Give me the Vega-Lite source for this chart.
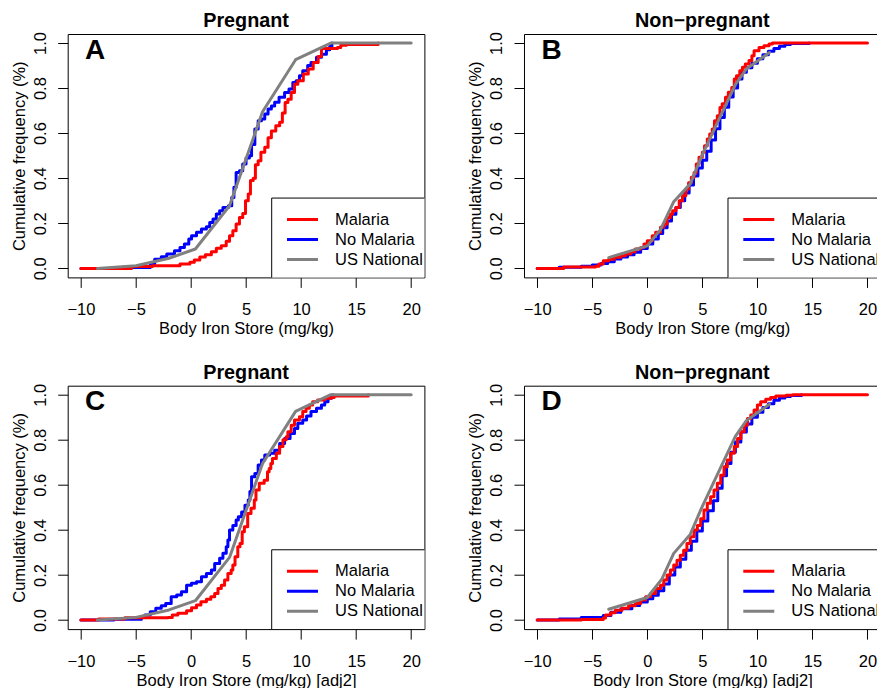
{
  "$schema": "https://vega.github.io/schema/vega-lite/v6.json",
  "background": "white",
  "padding": {"left": 10.7, "top": 10, "right": 0, "bottom": 0},
  "config": {
    "font": "Liberation Sans",
    "view": {"stroke": "black", "strokeWidth": 1},
    "axis": {"domain": false, "grid": false, "tickSize": 10, "tickColor": "black", "tickWidth": 1, "labelFontSize": 16.5, "labelColor": "black", "labelFlush": false, "labelOverlap": false, "titleFontSize": 16.5, "titleFontWeight": "normal", "titleColor": "black"},
    "axisX": {"labelPadding": 14, "labelBaseline": "top", "labelAngle": 0, "titleBaseline": "alphabetic", "titleY": 56.3, "titlePadding": 0},
    "axisY": {"labelAngle": 270, "labelAlign": "center", "labelBaseline": "alphabetic", "labelPadding": 12.6, "titleAngle": 270, "titleX": -43, "titleBaseline": "alphabetic", "titleAlign": "center"},
    "title": {"fontSize": 19.8, "fontWeight": "bold", "color": "black", "anchor": "middle", "frame": "group", "baseline": "alphabetic", "offset": 0.6},
    "legend": {"orient": "none", "legendX": 203.3, "legendY": 175.5, "padding": 0, "strokeColor": null, "fillColor": null, "symbolType": "stroke", "symbolSize": 961, "symbolStrokeWidth": 3, "symbolOffset": 14.5, "labelOffset": 15.5, "labelFontSize": 16.5, "labelColor": "black", "rowPadding": 0, "clipHeight": 20, "title": null}
  },
  "data": {"values": [
    {"p":"A","g":"No Malaria","x":-10,"y":0},{"p":"A","g":"No Malaria","x":-6,"y":0.004},{"p":"A","g":"No Malaria","x":-3.7,"y":0.02},{"p":"A","g":"No Malaria","x":-3.3,"y":0.04},{"p":"A","g":"No Malaria","x":-2.7,"y":0.052},{"p":"A","g":"No Malaria","x":-2.2,"y":0.064},{"p":"A","g":"No Malaria","x":-1.5,"y":0.078},{"p":"A","g":"No Malaria","x":-1.0,"y":0.093},{"p":"A","g":"No Malaria","x":-0.6,"y":0.108},{"p":"A","g":"No Malaria","x":-0.2,"y":0.13},{"p":"A","g":"No Malaria","x":0.05,"y":0.145},{"p":"A","g":"No Malaria","x":0.5,"y":0.16},{"p":"A","g":"No Malaria","x":0.95,"y":0.175},{"p":"A","g":"No Malaria","x":1.4,"y":0.185},{"p":"A","g":"No Malaria","x":1.7,"y":0.204},{"p":"A","g":"No Malaria","x":2.0,"y":0.219},{"p":"A","g":"No Malaria","x":2.3,"y":0.241},{"p":"A","g":"No Malaria","x":2.6,"y":0.256},{"p":"A","g":"No Malaria","x":2.9,"y":0.27},{"p":"A","g":"No Malaria","x":3.4,"y":0.278},{"p":"A","g":"No Malaria","x":3.7,"y":0.315},{"p":"A","g":"No Malaria","x":3.9,"y":0.36},{"p":"A","g":"No Malaria","x":4.1,"y":0.426},{"p":"A","g":"No Malaria","x":4.4,"y":0.433},{"p":"A","g":"No Malaria","x":4.7,"y":0.463},{"p":"A","g":"No Malaria","x":5.0,"y":0.49},{"p":"A","g":"No Malaria","x":5.3,"y":0.5},{"p":"A","g":"No Malaria","x":5.5,"y":0.55},{"p":"A","g":"No Malaria","x":5.8,"y":0.618},{"p":"A","g":"No Malaria","x":6.1,"y":0.655},{"p":"A","g":"No Malaria","x":6.4,"y":0.663},{"p":"A","g":"No Malaria","x":6.7,"y":0.685},{"p":"A","g":"No Malaria","x":7.0,"y":0.707},{"p":"A","g":"No Malaria","x":7.3,"y":0.72},{"p":"A","g":"No Malaria","x":7.6,"y":0.737},{"p":"A","g":"No Malaria","x":8.0,"y":0.759},{"p":"A","g":"No Malaria","x":8.5,"y":0.78},{"p":"A","g":"No Malaria","x":8.9,"y":0.796},{"p":"A","g":"No Malaria","x":9.25,"y":0.825},{"p":"A","g":"No Malaria","x":9.55,"y":0.833},{"p":"A","g":"No Malaria","x":9.85,"y":0.855},{"p":"A","g":"No Malaria","x":10.15,"y":0.877},{"p":"A","g":"No Malaria","x":10.6,"y":0.9},{"p":"A","g":"No Malaria","x":10.9,"y":0.914},{"p":"A","g":"No Malaria","x":11.4,"y":0.937},{"p":"A","g":"No Malaria","x":11.85,"y":0.95},{"p":"A","g":"No Malaria","x":12.3,"y":0.97},{"p":"A","g":"No Malaria","x":12.6,"y":0.985},{"p":"A","g":"No Malaria","x":12.8,"y":1.0},
    {"p":"A","g":"Malaria","x":-10,"y":0},{"p":"A","g":"Malaria","x":-5.4,"y":0.008},{"p":"A","g":"Malaria","x":-3.5,"y":0.012},{"p":"A","g":"Malaria","x":-1.0,"y":0.02},{"p":"A","g":"Malaria","x":-0.1,"y":0.027},{"p":"A","g":"Malaria","x":0.3,"y":0.037},{"p":"A","g":"Malaria","x":0.8,"y":0.05},{"p":"A","g":"Malaria","x":1.3,"y":0.06},{"p":"A","g":"Malaria","x":1.85,"y":0.074},{"p":"A","g":"Malaria","x":2.3,"y":0.089},{"p":"A","g":"Malaria","x":2.75,"y":0.1},{"p":"A","g":"Malaria","x":3.2,"y":0.12},{"p":"A","g":"Malaria","x":3.5,"y":0.145},{"p":"A","g":"Malaria","x":3.8,"y":0.167},{"p":"A","g":"Malaria","x":4.1,"y":0.197},{"p":"A","g":"Malaria","x":4.4,"y":0.226},{"p":"A","g":"Malaria","x":4.7,"y":0.244},{"p":"A","g":"Malaria","x":4.95,"y":0.3},{"p":"A","g":"Malaria","x":5.2,"y":0.33},{"p":"A","g":"Malaria","x":5.4,"y":0.39},{"p":"A","g":"Malaria","x":5.65,"y":0.4},{"p":"A","g":"Malaria","x":5.85,"y":0.46},{"p":"A","g":"Malaria","x":6.1,"y":0.478},{"p":"A","g":"Malaria","x":6.35,"y":0.515},{"p":"A","g":"Malaria","x":6.7,"y":0.537},{"p":"A","g":"Malaria","x":7.0,"y":0.58},{"p":"A","g":"Malaria","x":7.3,"y":0.61},{"p":"A","g":"Malaria","x":7.7,"y":0.633},{"p":"A","g":"Malaria","x":8.05,"y":0.648},{"p":"A","g":"Malaria","x":8.3,"y":0.69},{"p":"A","g":"Malaria","x":8.55,"y":0.736},{"p":"A","g":"Malaria","x":8.8,"y":0.75},{"p":"A","g":"Malaria","x":9.1,"y":0.78},{"p":"A","g":"Malaria","x":9.4,"y":0.817},{"p":"A","g":"Malaria","x":9.7,"y":0.833},{"p":"A","g":"Malaria","x":10.2,"y":0.862},{"p":"A","g":"Malaria","x":10.65,"y":0.885},{"p":"A","g":"Malaria","x":11.1,"y":0.914},{"p":"A","g":"Malaria","x":11.55,"y":0.94},{"p":"A","g":"Malaria","x":11.85,"y":0.976},{"p":"A","g":"Malaria","x":13.3,"y":0.98},{"p":"A","g":"Malaria","x":13.6,"y":0.99},{"p":"A","g":"Malaria","x":14.1,"y":0.993},{"p":"A","g":"Malaria","x":17.0,"y":1.0},
    {"p":"A","g":"US National","x":-8.5,"y":0},{"p":"A","g":"US National","x":-5,"y":0.012},{"p":"A","g":"US National","x":-2,"y":0.045},{"p":"A","g":"US National","x":0.4,"y":0.086},{"p":"A","g":"US National","x":3.5,"y":0.278},{"p":"A","g":"US National","x":6.5,"y":0.695},{"p":"A","g":"US National","x":9.5,"y":0.926},{"p":"A","g":"US National","x":12.7,"y":1.0},{"p":"A","g":"US National","x":20,"y":1.0},
    {"p":"B","g":"No Malaria","x":-10,"y":0},{"p":"B","g":"No Malaria","x":-8,"y":0.005},{"p":"B","g":"No Malaria","x":-6,"y":0.01},{"p":"B","g":"No Malaria","x":-5,"y":0.015},{"p":"B","g":"No Malaria","x":-4.2,"y":0.022},{"p":"B","g":"No Malaria","x":-3.6,"y":0.03},{"p":"B","g":"No Malaria","x":-3,"y":0.042},{"p":"B","g":"No Malaria","x":-2.4,"y":0.05},{"p":"B","g":"No Malaria","x":-1.8,"y":0.06},{"p":"B","g":"No Malaria","x":-1.2,"y":0.072},{"p":"B","g":"No Malaria","x":-0.6,"y":0.088},{"p":"B","g":"No Malaria","x":0,"y":0.108},{"p":"B","g":"No Malaria","x":0.5,"y":0.13},{"p":"B","g":"No Malaria","x":1.0,"y":0.155},{"p":"B","g":"No Malaria","x":1.4,"y":0.18},{"p":"B","g":"No Malaria","x":1.8,"y":0.21},{"p":"B","g":"No Malaria","x":2.2,"y":0.24},{"p":"B","g":"No Malaria","x":2.6,"y":0.27},{"p":"B","g":"No Malaria","x":3.0,"y":0.3},{"p":"B","g":"No Malaria","x":3.4,"y":0.335},{"p":"B","g":"No Malaria","x":3.8,"y":0.37},{"p":"B","g":"No Malaria","x":4.2,"y":0.41},{"p":"B","g":"No Malaria","x":4.6,"y":0.445},{"p":"B","g":"No Malaria","x":5.0,"y":0.48},{"p":"B","g":"No Malaria","x":5.4,"y":0.52},{"p":"B","g":"No Malaria","x":5.8,"y":0.57},{"p":"B","g":"No Malaria","x":6.2,"y":0.62},{"p":"B","g":"No Malaria","x":6.6,"y":0.67},{"p":"B","g":"No Malaria","x":7.0,"y":0.715},{"p":"B","g":"No Malaria","x":7.4,"y":0.76},{"p":"B","g":"No Malaria","x":7.8,"y":0.8},{"p":"B","g":"No Malaria","x":8.2,"y":0.84},{"p":"B","g":"No Malaria","x":8.6,"y":0.87},{"p":"B","g":"No Malaria","x":9.0,"y":0.89},{"p":"B","g":"No Malaria","x":9.5,"y":0.91},{"p":"B","g":"No Malaria","x":10.0,"y":0.93},{"p":"B","g":"No Malaria","x":10.5,"y":0.948},{"p":"B","g":"No Malaria","x":11.0,"y":0.963},{"p":"B","g":"No Malaria","x":11.5,"y":0.976},{"p":"B","g":"No Malaria","x":12.0,"y":0.986},{"p":"B","g":"No Malaria","x":12.5,"y":0.993},{"p":"B","g":"No Malaria","x":13.0,"y":0.998},{"p":"B","g":"No Malaria","x":14.7,"y":1.0},
    {"p":"B","g":"Malaria","x":-10,"y":0},{"p":"B","g":"Malaria","x":-7.6,"y":0.006},{"p":"B","g":"Malaria","x":-4.7,"y":0.01},{"p":"B","g":"Malaria","x":-4.4,"y":0.019},{"p":"B","g":"Malaria","x":-4.0,"y":0.034},{"p":"B","g":"Malaria","x":-3.5,"y":0.041},{"p":"B","g":"Malaria","x":-3.0,"y":0.049},{"p":"B","g":"Malaria","x":-2.4,"y":0.056},{"p":"B","g":"Malaria","x":-2.0,"y":0.064},{"p":"B","g":"Malaria","x":-1.5,"y":0.074},{"p":"B","g":"Malaria","x":-1.1,"y":0.086},{"p":"B","g":"Malaria","x":-0.6,"y":0.093},{"p":"B","g":"Malaria","x":-0.3,"y":0.108},{"p":"B","g":"Malaria","x":0,"y":0.123},{"p":"B","g":"Malaria","x":0.45,"y":0.145},{"p":"B","g":"Malaria","x":0.76,"y":0.16},{"p":"B","g":"Malaria","x":1.2,"y":0.182},{"p":"B","g":"Malaria","x":1.5,"y":0.197},{"p":"B","g":"Malaria","x":1.8,"y":0.226},{"p":"B","g":"Malaria","x":2.1,"y":0.241},{"p":"B","g":"Malaria","x":2.3,"y":0.256},{"p":"B","g":"Malaria","x":2.6,"y":0.27},{"p":"B","g":"Malaria","x":2.9,"y":0.3},{"p":"B","g":"Malaria","x":3.2,"y":0.322},{"p":"B","g":"Malaria","x":3.5,"y":0.352},{"p":"B","g":"Malaria","x":3.75,"y":0.38},{"p":"B","g":"Malaria","x":4.0,"y":0.404},{"p":"B","g":"Malaria","x":4.25,"y":0.426},{"p":"B","g":"Malaria","x":4.45,"y":0.463},{"p":"B","g":"Malaria","x":4.7,"y":0.493},{"p":"B","g":"Malaria","x":5.0,"y":0.515},{"p":"B","g":"Malaria","x":5.2,"y":0.544},{"p":"B","g":"Malaria","x":5.45,"y":0.574},{"p":"B","g":"Malaria","x":5.67,"y":0.596},{"p":"B","g":"Malaria","x":5.9,"y":0.618},{"p":"B","g":"Malaria","x":6.1,"y":0.655},{"p":"B","g":"Malaria","x":6.36,"y":0.677},{"p":"B","g":"Malaria","x":6.6,"y":0.714},{"p":"B","g":"Malaria","x":6.8,"y":0.73},{"p":"B","g":"Malaria","x":7.1,"y":0.759},{"p":"B","g":"Malaria","x":7.36,"y":0.781},{"p":"B","g":"Malaria","x":7.67,"y":0.803},{"p":"B","g":"Malaria","x":7.9,"y":0.84},{"p":"B","g":"Malaria","x":8.1,"y":0.855},{"p":"B","g":"Malaria","x":8.4,"y":0.877},{"p":"B","g":"Malaria","x":8.64,"y":0.892},{"p":"B","g":"Malaria","x":8.9,"y":0.907},{"p":"B","g":"Malaria","x":9.24,"y":0.922},{"p":"B","g":"Malaria","x":9.5,"y":0.944},{"p":"B","g":"Malaria","x":9.7,"y":0.966},{"p":"B","g":"Malaria","x":10.15,"y":0.98},{"p":"B","g":"Malaria","x":10.6,"y":0.988},{"p":"B","g":"Malaria","x":11.06,"y":0.996},{"p":"B","g":"Malaria","x":11.36,"y":1.0},{"p":"B","g":"Malaria","x":20,"y":1.0},
    {"p":"B","g":"US National","x":-3.5,"y":0.048},{"p":"B","g":"US National","x":0,"y":0.1},{"p":"B","g":"US National","x":1.2,"y":0.172},{"p":"B","g":"US National","x":2.4,"y":0.296},{"p":"B","g":"US National","x":3.9,"y":0.375},{"p":"B","g":"US National","x":5,"y":0.505},{"p":"B","g":"US National","x":8,"y":0.815},{"p":"B","g":"US National","x":9,"y":0.885},{"p":"B","g":"US National","x":11.1,"y":0.958},
    {"p":"C","g":"No Malaria","x":-10,"y":0},{"p":"C","g":"No Malaria","x":-7,"y":0.004},{"p":"C","g":"No Malaria","x":-4.5,"y":0.012},{"p":"C","g":"No Malaria","x":-4.2,"y":0.022},{"p":"C","g":"No Malaria","x":-3.7,"y":0.037},{"p":"C","g":"No Malaria","x":-3.2,"y":0.052},{"p":"C","g":"No Malaria","x":-2.7,"y":0.064},{"p":"C","g":"No Malaria","x":-2.3,"y":0.074},{"p":"C","g":"No Malaria","x":-1.8,"y":0.104},{"p":"C","g":"No Malaria","x":-1.3,"y":0.111},{"p":"C","g":"No Malaria","x":-0.87,"y":0.126},{"p":"C","g":"No Malaria","x":-0.4,"y":0.155},{"p":"C","g":"No Malaria","x":0.04,"y":0.163},{"p":"C","g":"No Malaria","x":0.5,"y":0.17},{"p":"C","g":"No Malaria","x":0.95,"y":0.192},{"p":"C","g":"No Malaria","x":1.4,"y":0.207},{"p":"C","g":"No Malaria","x":1.85,"y":0.222},{"p":"C","g":"No Malaria","x":2.15,"y":0.251},{"p":"C","g":"No Malaria","x":2.6,"y":0.274},{"p":"C","g":"No Malaria","x":2.9,"y":0.296},{"p":"C","g":"No Malaria","x":3.2,"y":0.325},{"p":"C","g":"No Malaria","x":3.35,"y":0.355},{"p":"C","g":"No Malaria","x":3.5,"y":0.4},{"p":"C","g":"No Malaria","x":3.8,"y":0.42},{"p":"C","g":"No Malaria","x":4.1,"y":0.444},{"p":"C","g":"No Malaria","x":4.3,"y":0.459},{"p":"C","g":"No Malaria","x":4.6,"y":0.48},{"p":"C","g":"No Malaria","x":4.9,"y":0.51},{"p":"C","g":"No Malaria","x":5.2,"y":0.533},{"p":"C","g":"No Malaria","x":5.35,"y":0.57},{"p":"C","g":"No Malaria","x":5.5,"y":0.636},{"p":"C","g":"No Malaria","x":5.8,"y":0.65},{"p":"C","g":"No Malaria","x":6.1,"y":0.688},{"p":"C","g":"No Malaria","x":6.4,"y":0.71},{"p":"C","g":"No Malaria","x":6.7,"y":0.732},{"p":"C","g":"No Malaria","x":7.15,"y":0.74},{"p":"C","g":"No Malaria","x":7.6,"y":0.754},{"p":"C","g":"No Malaria","x":8.05,"y":0.784},{"p":"C","g":"No Malaria","x":8.5,"y":0.806},{"p":"C","g":"No Malaria","x":9.0,"y":0.828},{"p":"C","g":"No Malaria","x":9.4,"y":0.85},{"p":"C","g":"No Malaria","x":9.7,"y":0.873},{"p":"C","g":"No Malaria","x":10.15,"y":0.888},{"p":"C","g":"No Malaria","x":10.5,"y":0.905},{"p":"C","g":"No Malaria","x":10.9,"y":0.925},{"p":"C","g":"No Malaria","x":11.4,"y":0.94},{"p":"C","g":"No Malaria","x":11.85,"y":0.954},{"p":"C","g":"No Malaria","x":12.15,"y":0.969},{"p":"C","g":"No Malaria","x":12.45,"y":0.984},{"p":"C","g":"No Malaria","x":12.75,"y":0.998},{"p":"C","g":"No Malaria","x":12.9,"y":1.0},
    {"p":"C","g":"Malaria","x":-10,"y":0},{"p":"C","g":"Malaria","x":-8.4,"y":0.005},{"p":"C","g":"Malaria","x":-6,"y":0.01},{"p":"C","g":"Malaria","x":-2.1,"y":0.012},{"p":"C","g":"Malaria","x":-1.7,"y":0.022},{"p":"C","g":"Malaria","x":-1.2,"y":0.03},{"p":"C","g":"Malaria","x":-0.4,"y":0.041},{"p":"C","g":"Malaria","x":0.05,"y":0.055},{"p":"C","g":"Malaria","x":0.5,"y":0.067},{"p":"C","g":"Malaria","x":0.9,"y":0.081},{"p":"C","g":"Malaria","x":1.4,"y":0.092},{"p":"C","g":"Malaria","x":1.8,"y":0.104},{"p":"C","g":"Malaria","x":2.15,"y":0.118},{"p":"C","g":"Malaria","x":2.45,"y":0.14},{"p":"C","g":"Malaria","x":2.75,"y":0.155},{"p":"C","g":"Malaria","x":3.05,"y":0.178},{"p":"C","g":"Malaria","x":3.35,"y":0.207},{"p":"C","g":"Malaria","x":3.65,"y":0.222},{"p":"C","g":"Malaria","x":3.8,"y":0.244},{"p":"C","g":"Malaria","x":4.0,"y":0.281},{"p":"C","g":"Malaria","x":4.25,"y":0.325},{"p":"C","g":"Malaria","x":4.45,"y":0.34},{"p":"C","g":"Malaria","x":4.65,"y":0.392},{"p":"C","g":"Malaria","x":4.85,"y":0.414},{"p":"C","g":"Malaria","x":5.15,"y":0.473},{"p":"C","g":"Malaria","x":5.45,"y":0.496},{"p":"C","g":"Malaria","x":5.75,"y":0.533},{"p":"C","g":"Malaria","x":5.9,"y":0.577},{"p":"C","g":"Malaria","x":6.2,"y":0.607},{"p":"C","g":"Malaria","x":6.65,"y":0.621},{"p":"C","g":"Malaria","x":6.95,"y":0.658},{"p":"C","g":"Malaria","x":7.1,"y":0.673},{"p":"C","g":"Malaria","x":7.25,"y":0.695},{"p":"C","g":"Malaria","x":7.4,"y":0.717},{"p":"C","g":"Malaria","x":7.75,"y":0.74},{"p":"C","g":"Malaria","x":8.05,"y":0.77},{"p":"C","g":"Malaria","x":8.35,"y":0.8},{"p":"C","g":"Malaria","x":8.65,"y":0.814},{"p":"C","g":"Malaria","x":8.8,"y":0.836},{"p":"C","g":"Malaria","x":9.1,"y":0.865},{"p":"C","g":"Malaria","x":9.4,"y":0.888},{"p":"C","g":"Malaria","x":9.85,"y":0.902},{"p":"C","g":"Malaria","x":10.15,"y":0.925},{"p":"C","g":"Malaria","x":10.45,"y":0.94},{"p":"C","g":"Malaria","x":10.75,"y":0.954},{"p":"C","g":"Malaria","x":11.05,"y":0.969},{"p":"C","g":"Malaria","x":11.5,"y":0.976},{"p":"C","g":"Malaria","x":12.1,"y":0.984},{"p":"C","g":"Malaria","x":12.75,"y":0.988},{"p":"C","g":"Malaria","x":13.0,"y":0.994},{"p":"C","g":"Malaria","x":16.1,"y":1.0},
    {"p":"C","g":"US National","x":-8.5,"y":0},{"p":"C","g":"US National","x":-5,"y":0.012},{"p":"C","g":"US National","x":-2,"y":0.045},{"p":"C","g":"US National","x":0.4,"y":0.086},{"p":"C","g":"US National","x":3.5,"y":0.278},{"p":"C","g":"US National","x":6.5,"y":0.695},{"p":"C","g":"US National","x":9.5,"y":0.926},{"p":"C","g":"US National","x":12.7,"y":1.0},{"p":"C","g":"US National","x":20,"y":1.0},
    {"p":"D","g":"No Malaria","x":-10,"y":0},{"p":"D","g":"No Malaria","x":-8,"y":0.005},{"p":"D","g":"No Malaria","x":-6,"y":0.012},{"p":"D","g":"No Malaria","x":-4,"y":0.02},{"p":"D","g":"No Malaria","x":-3.3,"y":0.035},{"p":"D","g":"No Malaria","x":-2.4,"y":0.05},{"p":"D","g":"No Malaria","x":-1.4,"y":0.065},{"p":"D","g":"No Malaria","x":-0.7,"y":0.08},{"p":"D","g":"No Malaria","x":0,"y":0.095},{"p":"D","g":"No Malaria","x":0.5,"y":0.11},{"p":"D","g":"No Malaria","x":1.0,"y":0.13},{"p":"D","g":"No Malaria","x":1.5,"y":0.16},{"p":"D","g":"No Malaria","x":2.0,"y":0.2},{"p":"D","g":"No Malaria","x":2.5,"y":0.235},{"p":"D","g":"No Malaria","x":3.0,"y":0.27},{"p":"D","g":"No Malaria","x":3.5,"y":0.31},{"p":"D","g":"No Malaria","x":4.0,"y":0.35},{"p":"D","g":"No Malaria","x":4.5,"y":0.395},{"p":"D","g":"No Malaria","x":5.0,"y":0.44},{"p":"D","g":"No Malaria","x":5.5,"y":0.485},{"p":"D","g":"No Malaria","x":6.0,"y":0.53},{"p":"D","g":"No Malaria","x":6.4,"y":0.585},{"p":"D","g":"No Malaria","x":6.8,"y":0.64},{"p":"D","g":"No Malaria","x":7.2,"y":0.695},{"p":"D","g":"No Malaria","x":7.6,"y":0.745},{"p":"D","g":"No Malaria","x":8.0,"y":0.79},{"p":"D","g":"No Malaria","x":8.5,"y":0.835},{"p":"D","g":"No Malaria","x":9.0,"y":0.87},{"p":"D","g":"No Malaria","x":9.5,"y":0.9},{"p":"D","g":"No Malaria","x":10.0,"y":0.922},{"p":"D","g":"No Malaria","x":10.5,"y":0.943},{"p":"D","g":"No Malaria","x":11.0,"y":0.96},{"p":"D","g":"No Malaria","x":11.5,"y":0.975},{"p":"D","g":"No Malaria","x":12.0,"y":0.985},{"p":"D","g":"No Malaria","x":12.5,"y":0.992},{"p":"D","g":"No Malaria","x":13.0,"y":0.997},{"p":"D","g":"No Malaria","x":14.0,"y":1.0},
    {"p":"D","g":"Malaria","x":-10,"y":0},{"p":"D","g":"Malaria","x":-6,"y":0.003},{"p":"D","g":"Malaria","x":-4.0,"y":0.009},{"p":"D","g":"Malaria","x":-3.8,"y":0.022},{"p":"D","g":"Malaria","x":-3.35,"y":0.033},{"p":"D","g":"Malaria","x":-2.9,"y":0.044},{"p":"D","g":"Malaria","x":-2.3,"y":0.052},{"p":"D","g":"Malaria","x":-1.7,"y":0.064},{"p":"D","g":"Malaria","x":-1.1,"y":0.074},{"p":"D","g":"Malaria","x":-0.6,"y":0.089},{"p":"D","g":"Malaria","x":-0.15,"y":0.104},{"p":"D","g":"Malaria","x":0.3,"y":0.118},{"p":"D","g":"Malaria","x":0.75,"y":0.14},{"p":"D","g":"Malaria","x":1.2,"y":0.155},{"p":"D","g":"Malaria","x":1.5,"y":0.178},{"p":"D","g":"Malaria","x":1.8,"y":0.2},{"p":"D","g":"Malaria","x":2.1,"y":0.222},{"p":"D","g":"Malaria","x":2.4,"y":0.244},{"p":"D","g":"Malaria","x":2.7,"y":0.266},{"p":"D","g":"Malaria","x":3.0,"y":0.288},{"p":"D","g":"Malaria","x":3.3,"y":0.31},{"p":"D","g":"Malaria","x":3.6,"y":0.34},{"p":"D","g":"Malaria","x":3.9,"y":0.37},{"p":"D","g":"Malaria","x":4.24,"y":0.4},{"p":"D","g":"Malaria","x":4.55,"y":0.42},{"p":"D","g":"Malaria","x":4.85,"y":0.45},{"p":"D","g":"Malaria","x":5.15,"y":0.488},{"p":"D","g":"Malaria","x":5.45,"y":0.518},{"p":"D","g":"Malaria","x":5.75,"y":0.547},{"p":"D","g":"Malaria","x":6.06,"y":0.577},{"p":"D","g":"Malaria","x":6.36,"y":0.607},{"p":"D","g":"Malaria","x":6.67,"y":0.643},{"p":"D","g":"Malaria","x":6.97,"y":0.68},{"p":"D","g":"Malaria","x":7.27,"y":0.71},{"p":"D","g":"Malaria","x":7.57,"y":0.74},{"p":"D","g":"Malaria","x":7.9,"y":0.77},{"p":"D","g":"Malaria","x":8.2,"y":0.806},{"p":"D","g":"Malaria","x":8.5,"y":0.836},{"p":"D","g":"Malaria","x":8.8,"y":0.865},{"p":"D","g":"Malaria","x":9.1,"y":0.895},{"p":"D","g":"Malaria","x":9.4,"y":0.91},{"p":"D","g":"Malaria","x":9.7,"y":0.932},{"p":"D","g":"Malaria","x":10.0,"y":0.954},{"p":"D","g":"Malaria","x":10.3,"y":0.969},{"p":"D","g":"Malaria","x":10.76,"y":0.98},{"p":"D","g":"Malaria","x":11.2,"y":0.988},{"p":"D","g":"Malaria","x":11.67,"y":0.994},{"p":"D","g":"Malaria","x":12.6,"y":0.998},{"p":"D","g":"Malaria","x":13.2,"y":1.0},{"p":"D","g":"Malaria","x":20,"y":1.0},
    {"p":"D","g":"US National","x":-3.5,"y":0.048},{"p":"D","g":"US National","x":0,"y":0.1},{"p":"D","g":"US National","x":1.3,"y":0.18},{"p":"D","g":"US National","x":2.4,"y":0.296},{"p":"D","g":"US National","x":3.9,"y":0.38},{"p":"D","g":"US National","x":5,"y":0.505},{"p":"D","g":"US National","x":8,"y":0.815},{"p":"D","g":"US National","x":9,"y":0.885},{"p":"D","g":"US National","x":11.1,"y":0.958}
  ]},
  "columns": 2,
  "bounds": "flush",
  "spacing": {"row": 107.7, "column": 99.3},
  "resolve": {"scale": {"x": "independent", "y": "independent", "color": "independent"}, "axis": {"x": "independent", "y": "independent"}, "legend": {"color": "independent"}},
  "concat": [
    {
      "width": 356.7, "height": 243.4,
      "title": {"text": "Pregnant"},
      "layer": [
        {"transform": [{"filter": "datum.p == 'A' && datum.g == 'No Malaria'"}], "mark": {"type": "line", "interpolate": "step-after", "strokeWidth": 3, "strokeJoin": "round", "strokeCap": "round", "clip": true},
         "encoding": {
          "x": {"field": "x", "type": "quantitative", "scale": {"domain": [-11.2, 21.2], "nice": false, "zero": false}, "axis": {"values": [-10, -5, 0, 5, 10, 15, 20], "title": "Body Iron Store (mg/kg)"}},
          "y": {"field": "y", "type": "quantitative", "scale": {"domain": [-0.04, 1.04], "nice": false, "zero": false}, "axis": {"values": [0, 0.2, 0.4, 0.6, 0.8, 1], "format": ".1f", "title": "Cumulative frequency (%)"}},
          "color": {"field": "g", "type": "nominal", "scale": {"domain": ["Malaria", "No Malaria", "US National"], "range": ["#ff0000", "#0000ff", "#808080"]}}}},
        {"transform": [{"filter": "datum.p == 'A' && datum.g == 'Malaria'"}], "mark": {"type": "line", "interpolate": "step-after", "strokeWidth": 3, "strokeJoin": "round", "strokeCap": "round", "clip": true},
         "encoding": {"x": {"field": "x", "type": "quantitative"}, "y": {"field": "y", "type": "quantitative"}, "color": {"field": "g", "type": "nominal"}}},
        {"transform": [{"filter": "datum.p == 'A' && datum.g == 'US National'"}], "mark": {"type": "line", "strokeWidth": 3, "strokeJoin": "round", "strokeCap": "round", "clip": true},
         "encoding": {"x": {"field": "x", "type": "quantitative"}, "y": {"field": "y", "type": "quantitative"}, "color": {"field": "g", "type": "nominal"}}},
        {"transform": [{"filter": "datum.p == 'A'"}, {"aggregate": [{"op": "count", "as": "n"}]}], "mark": {"type": "rect", "fill": "white", "stroke": "black", "strokeWidth": 1, "clip": true},
         "encoding": {"x": {"datum": 7.33, "type": "quantitative"}, "x2": {"datum": 30}, "y": {"datum": -0.1, "type": "quantitative"}, "y2": {"datum": 0.312}}},
        {"transform": [{"filter": "datum.p == 'A'"}, {"aggregate": [{"op": "count", "as": "n"}]}], "mark": {"type": "text", "text": "A", "fontSize": 28, "fontWeight": "bold", "align": "left", "baseline": "alphabetic", "fill": "black"},
         "encoding": {"x": {"datum": -9.62, "type": "quantitative"}, "y": {"datum": 0.93, "type": "quantitative"}}}
      ]
    },
    {
      "width": 356.7, "height": 243.4,
      "title": {"text": "Non−pregnant"},
      "layer": [
        {"transform": [{"filter": "datum.p == 'B' && datum.g == 'No Malaria'"}], "mark": {"type": "line", "interpolate": "step-after", "strokeWidth": 3, "strokeJoin": "round", "strokeCap": "round", "clip": true},
         "encoding": {
          "x": {"field": "x", "type": "quantitative", "scale": {"domain": [-11.2, 21.2], "nice": false, "zero": false}, "axis": {"values": [-10, -5, 0, 5, 10, 15, 20], "title": "Body Iron Store (mg/kg)"}},
          "y": {"field": "y", "type": "quantitative", "scale": {"domain": [-0.04, 1.04], "nice": false, "zero": false}, "axis": {"values": [0, 0.2, 0.4, 0.6, 0.8, 1], "format": ".1f", "title": "Cumulative frequency (%)"}},
          "color": {"field": "g", "type": "nominal", "scale": {"domain": ["Malaria", "No Malaria", "US National"], "range": ["#ff0000", "#0000ff", "#808080"]}}}},
        {"transform": [{"filter": "datum.p == 'B' && datum.g == 'Malaria'"}], "mark": {"type": "line", "interpolate": "step-after", "strokeWidth": 3, "strokeJoin": "round", "strokeCap": "round", "clip": true},
         "encoding": {"x": {"field": "x", "type": "quantitative"}, "y": {"field": "y", "type": "quantitative"}, "color": {"field": "g", "type": "nominal"}}},
        {"transform": [{"filter": "datum.p == 'B' && datum.g == 'US National'"}], "mark": {"type": "line", "strokeWidth": 3, "strokeJoin": "round", "strokeCap": "round", "clip": true},
         "encoding": {"x": {"field": "x", "type": "quantitative"}, "y": {"field": "y", "type": "quantitative"}, "color": {"field": "g", "type": "nominal"}}},
        {"transform": [{"filter": "datum.p == 'B'"}, {"aggregate": [{"op": "count", "as": "n"}]}], "mark": {"type": "rect", "fill": "white", "stroke": "black", "strokeWidth": 1, "clip": true},
         "encoding": {"x": {"datum": 7.33, "type": "quantitative"}, "x2": {"datum": 30}, "y": {"datum": -0.1, "type": "quantitative"}, "y2": {"datum": 0.312}}},
        {"transform": [{"filter": "datum.p == 'B'"}, {"aggregate": [{"op": "count", "as": "n"}]}], "mark": {"type": "text", "text": "B", "fontSize": 28, "fontWeight": "bold", "align": "left", "baseline": "alphabetic", "fill": "black"},
         "encoding": {"x": {"datum": -9.62, "type": "quantitative"}, "y": {"datum": 0.93, "type": "quantitative"}}}
      ]
    },
    {
      "width": 356.7, "height": 243.4,
      "title": {"text": "Pregnant"},
      "layer": [
        {"transform": [{"filter": "datum.p == 'C' && datum.g == 'No Malaria'"}], "mark": {"type": "line", "interpolate": "step-after", "strokeWidth": 3, "strokeJoin": "round", "strokeCap": "round", "clip": true},
         "encoding": {
          "x": {"field": "x", "type": "quantitative", "scale": {"domain": [-11.2, 21.2], "nice": false, "zero": false}, "axis": {"values": [-10, -5, 0, 5, 10, 15, 20], "title": "Body Iron Store (mg/kg) [adj2]"}},
          "y": {"field": "y", "type": "quantitative", "scale": {"domain": [-0.04, 1.04], "nice": false, "zero": false}, "axis": {"values": [0, 0.2, 0.4, 0.6, 0.8, 1], "format": ".1f", "title": "Cumulative frequency (%)"}},
          "color": {"field": "g", "type": "nominal", "scale": {"domain": ["Malaria", "No Malaria", "US National"], "range": ["#ff0000", "#0000ff", "#808080"]}}}},
        {"transform": [{"filter": "datum.p == 'C' && datum.g == 'Malaria'"}], "mark": {"type": "line", "interpolate": "step-after", "strokeWidth": 3, "strokeJoin": "round", "strokeCap": "round", "clip": true},
         "encoding": {"x": {"field": "x", "type": "quantitative"}, "y": {"field": "y", "type": "quantitative"}, "color": {"field": "g", "type": "nominal"}}},
        {"transform": [{"filter": "datum.p == 'C' && datum.g == 'US National'"}], "mark": {"type": "line", "strokeWidth": 3, "strokeJoin": "round", "strokeCap": "round", "clip": true},
         "encoding": {"x": {"field": "x", "type": "quantitative"}, "y": {"field": "y", "type": "quantitative"}, "color": {"field": "g", "type": "nominal"}}},
        {"transform": [{"filter": "datum.p == 'C'"}, {"aggregate": [{"op": "count", "as": "n"}]}], "mark": {"type": "rect", "fill": "white", "stroke": "black", "strokeWidth": 1, "clip": true},
         "encoding": {"x": {"datum": 7.33, "type": "quantitative"}, "x2": {"datum": 30}, "y": {"datum": -0.1, "type": "quantitative"}, "y2": {"datum": 0.312}}},
        {"transform": [{"filter": "datum.p == 'C'"}, {"aggregate": [{"op": "count", "as": "n"}]}], "mark": {"type": "text", "text": "C", "fontSize": 28, "fontWeight": "bold", "align": "left", "baseline": "alphabetic", "fill": "black"},
         "encoding": {"x": {"datum": -9.62, "type": "quantitative"}, "y": {"datum": 0.93, "type": "quantitative"}}}
      ]
    },
    {
      "width": 356.7, "height": 243.4,
      "title": {"text": "Non−pregnant"},
      "layer": [
        {"transform": [{"filter": "datum.p == 'D' && datum.g == 'No Malaria'"}], "mark": {"type": "line", "interpolate": "step-after", "strokeWidth": 3, "strokeJoin": "round", "strokeCap": "round", "clip": true},
         "encoding": {
          "x": {"field": "x", "type": "quantitative", "scale": {"domain": [-11.2, 21.2], "nice": false, "zero": false}, "axis": {"values": [-10, -5, 0, 5, 10, 15, 20], "title": "Body Iron Store (mg/kg) [adj2]"}},
          "y": {"field": "y", "type": "quantitative", "scale": {"domain": [-0.04, 1.04], "nice": false, "zero": false}, "axis": {"values": [0, 0.2, 0.4, 0.6, 0.8, 1], "format": ".1f", "title": "Cumulative frequency (%)"}},
          "color": {"field": "g", "type": "nominal", "scale": {"domain": ["Malaria", "No Malaria", "US National"], "range": ["#ff0000", "#0000ff", "#808080"]}}}},
        {"transform": [{"filter": "datum.p == 'D' && datum.g == 'Malaria'"}], "mark": {"type": "line", "interpolate": "step-after", "strokeWidth": 3, "strokeJoin": "round", "strokeCap": "round", "clip": true},
         "encoding": {"x": {"field": "x", "type": "quantitative"}, "y": {"field": "y", "type": "quantitative"}, "color": {"field": "g", "type": "nominal"}}},
        {"transform": [{"filter": "datum.p == 'D' && datum.g == 'US National'"}], "mark": {"type": "line", "strokeWidth": 3, "strokeJoin": "round", "strokeCap": "round", "clip": true},
         "encoding": {"x": {"field": "x", "type": "quantitative"}, "y": {"field": "y", "type": "quantitative"}, "color": {"field": "g", "type": "nominal"}}},
        {"transform": [{"filter": "datum.p == 'D'"}, {"aggregate": [{"op": "count", "as": "n"}]}], "mark": {"type": "rect", "fill": "white", "stroke": "black", "strokeWidth": 1, "clip": true},
         "encoding": {"x": {"datum": 7.33, "type": "quantitative"}, "x2": {"datum": 30}, "y": {"datum": -0.1, "type": "quantitative"}, "y2": {"datum": 0.312}}},
        {"transform": [{"filter": "datum.p == 'D'"}, {"aggregate": [{"op": "count", "as": "n"}]}], "mark": {"type": "text", "text": "D", "fontSize": 28, "fontWeight": "bold", "align": "left", "baseline": "alphabetic", "fill": "black"},
         "encoding": {"x": {"datum": -9.62, "type": "quantitative"}, "y": {"datum": 0.93, "type": "quantitative"}}}
      ]
    }
  ]
}
